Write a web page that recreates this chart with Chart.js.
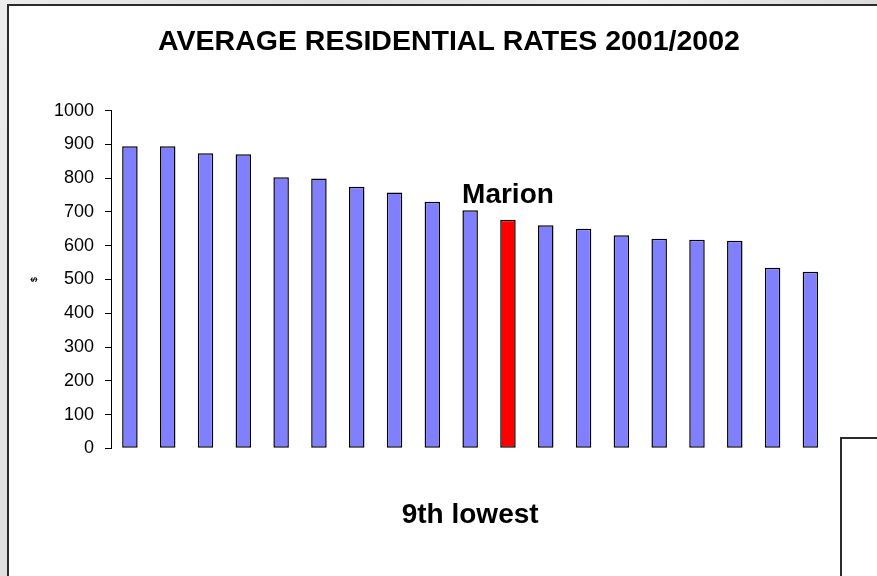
<!DOCTYPE html>
<html>
<head>
<meta charset="utf-8">
<script src="https://cdn.jsdelivr.net/npm/chart.js@4"></script>
<style>
html, body { margin: 0; padding: 0; }
body {
  width: 877px; height: 576px; overflow: hidden; position: relative;
  background: #e4e4e4;
  background-image: linear-gradient(115deg, #ececec 0%, #dcdcdc 30%, #eeeeee 55%, #d8d8d8 80%, #e9e9e9 100%);
}
#frame {
  position: absolute; left: 7px; top: 4px; width: 900px; height: 600px;
  background: #fff; border: 2px solid #2b2b2b;
}
#corner {
  position: absolute; left: 840px; top: 437px; width: 60px; height: 160px;
  background: #fff; border: 2px solid #2b2b2b;
}
#myChart { position: absolute; left: 0; top: 0; }
</style>
</head>
<body>
<div id="frame"></div>
<div id="corner"></div>
<canvas id="myChart" width="877" height="576"></canvas>
<script>
var ctx = document.getElementById('myChart');

var councils = ['1', '2', '3', '4', '5', '6', '7', '8', '9', '10', 'Marion',
                '12', '13', '14', '15', '16', '17', '18', '19'];
var rates = [895, 895, 874, 871, 803, 799, 775, 758, 730, 705, 677,
             661, 650, 631, 621, 618, 615, 535, 523];
var yTicks = [0, 100, 200, 300, 400, 500, 600, 700, 800, 900, 1000];
var highlight = 'Marion';

var colours = councils.map(function (c) {
  return c === highlight ? '#FF0000' : '#8080FF';
});

// headings and the label over the highlighted bar
var captions = {
  id: 'captions',
  afterDraw: function (chart) {
    var c = chart.ctx;
    c.save();
    c.fillStyle = '#000';
    c.textAlign = 'center';
    c.font = 'bold 28.5px "Liberation Sans", Arial, sans-serif';
    c.textBaseline = 'middle';
    c.fillText('AVERAGE RESIDENTIAL RATES 2001/2002', 449, 42);
    c.font = 'bold 28px "Liberation Sans", Arial, sans-serif';
    c.fillText('9th lowest', (chart.chartArea.left + chart.chartArea.right) / 2, 515);

    var idx = councils.indexOf(highlight);
    var bar = chart.getDatasetMeta(0).data[idx];
    c.textBaseline = 'alphabetic';
    c.fillText(highlight, bar.x, bar.y - 17);
    c.restore();
  }
};

var myChart = new Chart(ctx, {
  type: 'bar',
  data: {
    labels: councils,
    datasets: [{
      label: '$',
      data: rates,
      backgroundColor: colours,
      borderColor: '#000',
      borderWidth: 1.5,
      borderSkipped: false,
      barPercentage: 0.41,
      categoryPercentage: 1
    }]
  },
  options: {
    responsive: false,
    animation: false,
    layout: { padding: { top: 110.7, right: 47.7, bottom: 127.7, left: 0 } },
    plugins: {
      legend: { display: false },
      tooltip: { enabled: false }
    },
    scales: {
      x: { display: false },
      y: {
        min: 0,
        max: 1000,
        afterBuildTicks: function (scale) {
          scale.ticks = yTicks.map(function (v) { return { value: v }; });
        },
        afterFit: function (scale) { scale.width = 111; },
        grid: { drawOnChartArea: false, drawTicks: true, tickLength: 6, color: '#000' },
        border: { display: true, color: '#000', width: 1 },
        ticks: {
          color: '#000',
          padding: 11,
          font: { family: '"Liberation Sans", Arial, sans-serif', size: 18 },
          callback: function (v) { return String(v); }
        },
        title: {
          display: true,
          text: '$',
          color: '#000',
          padding: { top: 29, bottom: 0 },
          font: { family: '"Liberation Sans", Arial, sans-serif', size: 9, weight: 'bold' }
        }
      }
    }
  },
  plugins: [captions]
});
</script>
</body>
</html>
